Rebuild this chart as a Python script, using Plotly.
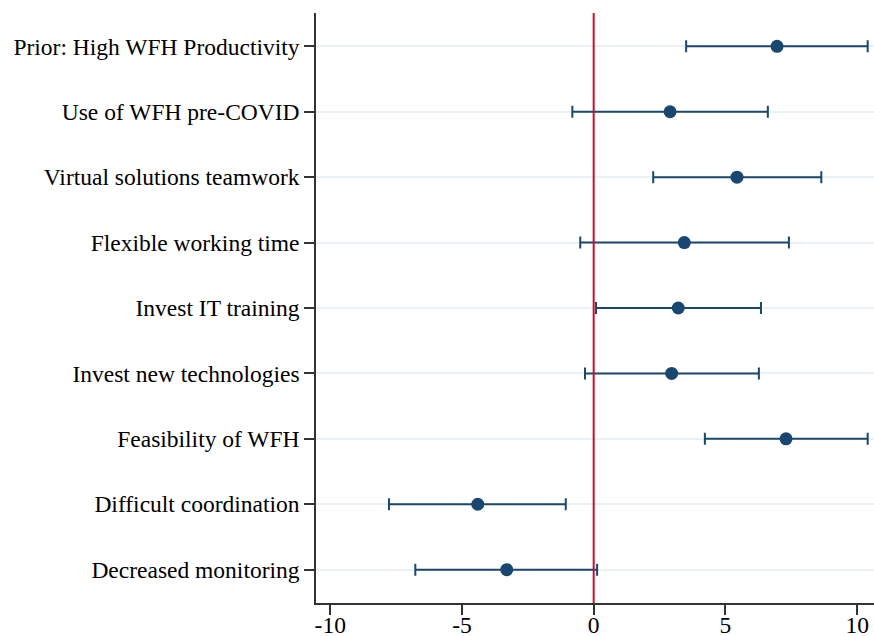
import plotly.graph_objects as go

labels = [
    "Prior: High WFH Productivity",
    "Use of WFH pre-COVID",
    "Virtual solutions teamwork",
    "Flexible working time",
    "Invest IT training",
    "Invest new technologies",
    "Feasibility of WFH",
    "Difficult coordination",
    "Decreased monitoring",
]
estimates = [6.96, 2.90, 5.44, 3.44, 3.21, 2.96, 7.30, -4.40, -3.30]
lower = [3.51, -0.81, 2.26, -0.51, 0.09, -0.33, 4.22, -7.77, -6.77]
upper = [10.40, 6.61, 8.64, 7.41, 6.35, 6.27, 10.40, -1.06, 0.13]
x_ticks = [-10, -5, 0, 5, 10]

n = len(labels)
ypos = [n - i for i in range(n)]
x_range = [-10.54, 10.64]

navy = "#1a476f"
fig = go.Figure()
# invisible trace carrying the tick-label axis (labels sit closer to the axis line)
fig.add_trace(go.Scatter(
    x=estimates, y=ypos, xaxis="x2", mode="markers",
    marker=dict(opacity=0), hoverinfo="skip", showlegend=False,
))
fig.add_trace(go.Scatter(
    x=estimates, y=ypos, mode="markers",
    marker=dict(color=navy, size=13),
    error_x=dict(type="data", symmetric=False,
                 array=[u - e for u, e in zip(upper, estimates)],
                 arrayminus=[e - l for e, l in zip(estimates, lower)],
                 color=navy, thickness=2, width=6),
    showlegend=False,
))
fig.add_vline(x=0, line=dict(color="#c8102e", width=2), layer="above")

fig.update_layout(
    width=874, height=636,
    margin=dict(l=316, r=0, t=13, b=33, autoexpand=False),
    plot_bgcolor="white", paper_bgcolor="white",
    font=dict(family="Liberation Serif", size=23.5, color="black"),
    xaxis=dict(
        range=x_range, tickvals=x_ticks, showticklabels=False,
        showgrid=False, zeroline=False, showline=True, linecolor="#333333", linewidth=1.5,
        ticks="outside", ticklen=10, tickwidth=1.5, tickcolor="#333333", automargin=False,
    ),
    xaxis2=dict(
        overlaying="x", matches="x", side="bottom", anchor="y",
        range=x_range, tickvals=x_ticks, ticktext=[str(t) for t in x_ticks],
        showgrid=False, zeroline=False, showline=False, ticks="", automargin=False,
        ticklabelstandoff=5,
    ),
    yaxis=dict(
        range=[0.49, 9.51], tickvals=ypos, ticktext=labels,
        showgrid=True, gridcolor="#eaf0f3", gridwidth=2, zeroline=False,
        showline=True, linecolor="#333333", linewidth=1.5,
        ticks="outside", ticklen=10, tickwidth=1.5, tickcolor="#333333", automargin=False,
    ),
)
fig.write_html("out.html", config={"displayModeBar": False},
               post_script="document.body.style.margin='0';document.body.style.overflow='hidden';")
